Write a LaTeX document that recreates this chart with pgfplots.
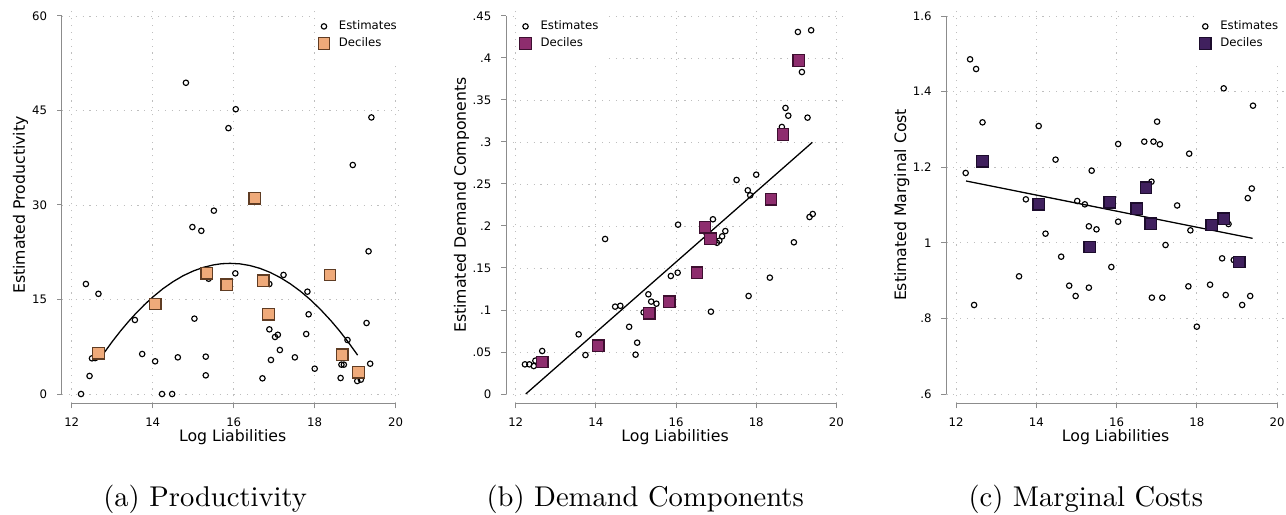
\documentclass[border=0pt]{standalone}
\usepackage{fontspec}
\usepackage{pgfplots}
\pgfplotsset{compat=1.18}
\newfontfamily\dv{DejaVu Sans}
\definecolor{peach}{RGB}{239,170,122}
\definecolor{peachd}{RGB}{95,60,35}
\definecolor{plum}{RGB}{142,45,110}
\definecolor{plumd}{RGB}{62,15,48}
\definecolor{indig}{RGB}{64,32,94}
\definecolor{indigd}{RGB}{28,12,44}
\definecolor{axgray}{RGB}{140,140,140}
\definecolor{grgray}{RGB}{190,190,190}
\pgfplotsset{
  statastyle/.style={
    scale only axis, height=138.81pt, clip=false,
    axis x line*=bottom, axis y line*=left,
    axis line style={draw=none},
    tick align=outside, major tick length=1.75pt,
    tick style={axgray, line width=0.35pt},
    grid=major, major grid style={grgray, dotted, line width=0.3pt},
    xmin=11.76, xmax=20.19,
    xtick={12,14,16,18,20}, xticklabels={12,14,16,18,20},
    ticklabel style={font=\dv\fontsize{4.1}{5}\selectfont, text=black},
    xticklabel style={anchor=base, yshift=-6.4pt},
    yticklabel style={anchor=east, inner sep=0pt, xshift=-3.26pt},
    xlabel={Log Liabilities},
    label style={font=\dv\fontsize{5.5}{6.6}\selectfont},
    xlabel style={at={(axis description cs:0.5,-0.0963)}, anchor=base},
    legend style={draw=none, fill=white, font=\dv\fontsize{4.1}{5}\selectfont,
      inner xsep=1.1pt, inner ysep=4.1pt, row sep=2pt,
      nodes={inner xsep=1pt, inner ysep=0pt, text height=3.1pt, text depth=0.9pt}},
    legend cell align=left,
  },
  est/.style={only marks, mark=o, mark size=0.95pt, line width=0.4pt, black,
    legend image code/.code={\path[draw=none,fill=none] (-2.2pt,0pt) -- (4.25pt,0pt);
      \draw[##1] plot coordinates {(0pt,0pt)};}},
  dec/.style 2 args={only marks, mark=square*, mark size=2pt, line width=0.45pt,
    draw=#2, fill=#1, mark options={draw=#2, fill=#1},
    legend image code/.code={\path[draw=none,fill=none] (-2.2pt,0pt) -- (4.25pt,0pt);
      \draw[##1] plot coordinates {(0pt,0pt)};}},
  fit/.style={black, line width=0.45pt, no marks, forget plot},
}
\begin{document}
\begin{tikzpicture}
\path[use as bounding box] (0,0) rectangle (450.1pt,179.9pt);
% ---------------- (a) ----------------
\begin{axis}[statastyle, at={(21.7pt,38.745pt)}, anchor=south west, width=119.49pt,
  ymin=-1.476, ymax=61.476,
  ytick={0,15,30,45,60}, yticklabels={0,15,30,45,60},
  ylabel={Estimated Productivity},
  ylabel style={at={(axis description cs:-0.1084,0.5)}, anchor=base},
  legend style={at={(rel axis cs:1,1)}, anchor=north east, yshift=-0.6pt}]
\addplot[est] coordinates {
(12.23,0) (12.35,17.46) (12.44,2.86) (12.50,5.66) (12.58,5.7) (12.66,15.9)
(13.56,11.75) (13.74,6.35) (14.06,5.19) (14.23,0) (14.48,0) (14.62,5.82)
(14.82,49.4) (14.98,26.5) (15.03,11.96) (15.20,25.9) (15.31,5.93) (15.31,2.96)
(15.38,18.3) (15.51,29.1) (15.87,42.2) (16.04,19.15) (16.05,45.2) (16.71,2.49)
(16.88,17.46) (16.88,10.26) (16.92,5.4) (17.02,9.05) (17.09,9.4) (17.14,6.98)
(17.23,18.9) (17.51,5.82) (17.79,9.52) (17.82,16.24) (17.85,12.65) (18.0,4.02)
(18.64,2.54) (18.66,4.66) (18.72,4.66) (18.81,8.57) (18.94,36.35) (19.05,2.06)
(19.14,2.28) (19.28,11.27) (19.33,22.65) (19.37,4.81) (19.40,43.9)
};
\addlegendentry{Estimates}
\addplot[fit] coordinates {
(12.8,6.54) (13.0,8.31) (13.2,9.96) (13.4,11.49) (13.6,12.91) (13.8,14.20) (14.0,15.38)
(14.25,16.70) (14.5,17.82) (14.75,18.77) (15.0,19.52) (15.25,20.10) (15.5,20.49)
(15.7,20.68) (15.91,20.74) (16.15,20.66) (16.4,20.39) (16.65,19.94) (16.9,19.30)
(17.15,18.48) (17.4,17.48) (17.65,16.30) (17.9,14.93) (18.15,13.37) (18.4,11.64)
(18.6,10.12) (18.8,8.48) (19.06,6.17)
};
\addplot[dec={peach}{peachd}] coordinates {
(12.66,6.46) (14.06,14.29) (15.33,19.15) (15.83,17.35) (16.52,31.06)
(16.73,17.99) (16.86,12.65) (18.38,18.89) (18.68,6.24) (19.08,3.44)
};
\addlegendentry{Deciles}
\draw[axgray, line width=0.35pt] (axis cs:12,-1.476) -- (axis cs:20,-1.476);
\draw[axgray, line width=0.35pt] (axis cs:11.76,0) -- (axis cs:11.76,60);
\end{axis}
% ---------------- (b) ----------------
\begin{axis}[statastyle, at={(177.135pt,38.745pt)}, anchor=south west, width=118.265pt,
  ymin=-0.01107, ymax=0.46107,
  ytick={0,0.05,0.1,0.15,0.2,0.25,0.3,0.35,0.4,0.45},
  yticklabels={0,.05,.1,.15,.2,.25,.3,.35,.4,.45},
  ylabel={Estimated Demand Components},
  ylabel style={at={(axis description cs:-0.1187,0.5)}, anchor=base},
  legend style={at={(rel axis cs:0,1)}, anchor=north west, xshift=3.3pt, yshift=-0.6pt}]
\addplot[est] coordinates {
(12.23,0.0353) (12.34,0.0353) (12.45,0.0333) (12.49,0.0397) (12.66,0.0512)
(13.57,0.071) (13.74,0.0464) (14.23,0.1845) (14.48,0.104) (14.61,0.105)
(14.83,0.080) (14.99,0.0468) (15.03,0.0611) (15.19,0.0972) (15.31,0.1187)
(15.38,0.110) (15.51,0.1075) (15.87,0.1405) (16.04,0.1444) (16.05,0.2016)
(16.75,0.192) (16.87,0.098) (16.92,0.208) (17.02,0.180) (17.08,0.1825)
(17.15,0.1877) (17.23,0.194) (17.51,0.2548) (17.79,0.2425) (17.81,0.1167)
(17.85,0.2365) (18.0,0.2611) (18.34,0.1385) (18.64,0.3179) (18.73,0.3405)
(18.80,0.3313) (18.94,0.1806) (19.04,0.431) (19.14,0.3833) (19.28,0.329)
(19.33,0.2107) (19.37,0.433) (19.41,0.2143)
};
\addlegendentry{Estimates}
\addplot[fit] coordinates {(12.25,0) (19.40,0.2996)};
\addplot[dec={plum}{plumd}] coordinates {
(12.66,0.0381) (14.06,0.0575) (15.33,0.096) (15.83,0.110) (16.52,0.1444)
(16.72,0.1984) (16.86,0.185) (18.37,0.2317) (18.67,0.309) (19.06,0.397)
};
\addlegendentry{Deciles}
\draw[axgray, line width=0.35pt] (axis cs:12,-0.01107) -- (axis cs:20,-0.01107);
\draw[axgray, line width=0.35pt] (axis cs:11.76,0) -- (axis cs:11.76,0.45);
\end{axis}
% ---------------- (c) ----------------
\begin{axis}[statastyle, at={(331.24pt,38.745pt)}, anchor=south west, width=118.405pt,
  ymin=0.5754, ymax=1.6246,
  ytick={0.6,0.8,1,1.2,1.4,1.6}, yticklabels={.6,.8,1,1.2,1.4,1.6},
  ylabel={Estimated Marginal Cost},
  ylabel style={at={(axis description cs:-0.1194,0.5)}, anchor=base},
  legend style={at={(rel axis cs:1,1)}, anchor=north east, yshift=-0.6pt}]
\addplot[est] coordinates {
(12.24,1.1847) (12.35,1.4854) (12.45,0.8355) (12.50,1.4598) (12.66,1.3187)
(13.57,0.9113) (13.74,1.115) (14.06,1.309) (14.23,1.0242) (14.48,1.220)
(14.62,0.9633) (14.82,0.8866) (14.98,0.8593) (15.02,1.1106) (15.21,1.1018)
(15.31,0.8813) (15.31,1.0436) (15.38,1.1908) (15.50,1.0356) (15.87,0.936)
(16.04,1.2614) (16.04,1.0559) (16.69,1.2676) (16.87,1.1617) (16.88,0.8549)
(16.92,1.2676) (17.01,1.3205) (17.08,1.2605) (17.14,0.8549) (17.22,0.9942)
(17.51,1.0988) (17.79,0.8848) (17.81,1.2358) (17.84,1.033) (18.0,0.7781)
(18.33,0.8892) (18.63,0.9589) (18.67,1.4086) (18.72,0.8619) (18.79,1.0497)
(18.92,0.9545) (19.13,0.8355) (19.27,1.1182) (19.33,0.8593) (19.37,1.1437)
(19.40,1.3628)
};
\addlegendentry{Estimates}
\addplot[fit] coordinates {(12.25,1.1635) (19.39,1.0118)};
\addplot[dec={indig}{indigd}] coordinates {
(12.66,1.2155) (14.06,1.1018) (15.33,0.9889) (15.83,1.1071) (16.50,1.0903)
(16.73,1.1459) (16.85,1.0506) (18.37,1.0471) (18.67,1.0638) (19.06,0.9492)
};
\addlegendentry{Deciles}
\draw[axgray, line width=0.35pt] (axis cs:12,0.5754) -- (axis cs:20,0.5754);
\draw[axgray, line width=0.35pt] (axis cs:11.76,0.6) -- (axis cs:11.76,1.6);
\end{axis}
% captions
\node[anchor=base, inner sep=0pt, font=\fontsize{10}{12}\selectfont] at (71.82pt,2.5pt) {(a) Productivity};
\node[anchor=base, inner sep=0pt, font=\fontsize{10}{12}\selectfont] at (225.82pt,2.5pt) {(b) Demand Components};
\node[anchor=base, inner sep=0pt, font=\fontsize{10}{12}\selectfont] at (380.03pt,2.5pt) {(c) Marginal Costs};
\end{tikzpicture}
\end{document}
